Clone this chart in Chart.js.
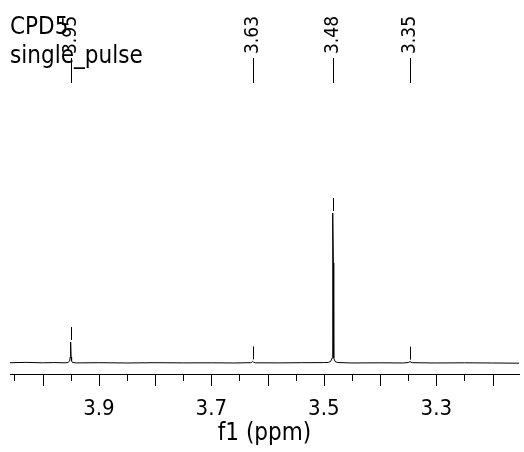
<!DOCTYPE html>
<html lang="en">
<head>
<meta charset="utf-8">
<title>CPD5 single_pulse</title>
<script src="https://cdn.jsdelivr.net/npm/chart.js"></script>
<style>
  body { margin: 0; background: #fff; }
  canvas { display: block; }
</style>
</head>
<body>
<canvas id="nmr" width="524" height="452"></canvas>
<script>
// spectrum (ppm, intensity)
const ppm = [4.058, 4.03, 4.00, 3.98, 3.96, 3.955, 3.952, 3.951, 3.9502, 3.9494, 3.9485, 3.947, 3.94,
  3.90, 3.85, 3.80, 3.75, 3.70, 3.66, 3.63, 3.628, 3.6265, 3.625, 3.622, 3.58, 3.54, 3.50,
  3.492, 3.488, 3.4852, 3.4846, 3.4838, 3.483, 3.4824, 3.480, 3.476, 3.45, 3.40, 3.36,
  3.35, 3.3485, 3.3467, 3.345, 3.343, 3.30, 3.25, 3.20, 3.153];
const intensity = [0.3, 0.6, 0.2, 0.4, 0.2, 0.5, 2, 6, 21, 6, 2, 0.5, 0.1,
  0.3, 0, 0.3, 0.1, 0.2, 0, 0.3, 0.8, 1.6, 0.8, 0.2, 0.1, 0.3, 0.4,
  0.6, 1.5, 5, 100, 150, 100, 5, 1.5, 0.5, 0, 0.2, 0,
  0.4, 0.9, 1.4, 0.9, 0.3, 0, 0.2, 0, -0.2];

// peak picking
const peakPpm = [3.9502, 3.6265, 3.4838, 3.3467];
const peakLabels = ['3.95', '3.63', '3.48', '3.35'];

const titleLines = ['CPD5', 'single_pulse'];
const axisTitle = 'f1 (ppm)';

const FONT = "'DejaVu Sans Condensed', 'DejaVu Sans', sans-serif";

// draws tick marks (long every 0.1, short every 0.05) and the peak labels
const peakMarks = {
  id: 'peakMarks',
  afterDraw(chart) {
    const {ctx, scales: {x, y}} = chart;
    ctx.save();
    ctx.strokeStyle = '#000';
    ctx.fillStyle = '#000';
    ctx.lineWidth = 1;

    for (let k = Math.ceil(x.min * 20 - 1e-6); k <= Math.floor(x.max * 20 + 1e-6); k++) {
      const px = Math.round(x.getPixelForValue(k / 20)) + 0.5;
      ctx.beginPath();
      ctx.moveTo(px, x.top);
      ctx.lineTo(px, x.top + (k % 2 === 0 ? 12 : 7));
      ctx.stroke();
    }

    ctx.font = '19px ' + FONT;
    peakPpm.forEach((p, i) => {
      const px = Math.round(x.getPixelForValue(p)) + 0.5;
      // height of the peak from the data
      let h = 0;
      ppm.forEach((q, j) => { if (Math.abs(q - p) < 0.004) h = Math.max(h, intensity[j]); });
      const py = y.getPixelForValue(h);
      ctx.beginPath();
      ctx.moveTo(px, py - 2);
      ctx.lineTo(px, py - 15);
      ctx.stroke();

      ctx.beginPath();
      ctx.moveTo(px, 58);
      ctx.lineTo(px, 83);
      ctx.stroke();

      ctx.save();
      ctx.translate(px, 54);
      ctx.rotate(-Math.PI / 2);
      ctx.textAlign = 'left';
      ctx.textBaseline = 'middle';
      ctx.fillText(peakLabels[i], 0, 0);
      ctx.restore();
    });
    ctx.restore();
  }
};

new Chart(document.getElementById('nmr'), {
  type: 'line',
  data: {
    datasets: [{
      data: ppm.map((p, i) => ({x: p, y: intensity[i]})),
      borderColor: '#000',
      borderWidth: 1,
      pointRadius: 0,
      tension: 0,
      fill: false
    }]
  },
  options: {
    responsive: false,
    animation: false,
    layout: { padding: { left: 10, right: 5, top: 0, bottom: 0 } },
    plugins: {
      legend: { display: false },
      tooltip: { enabled: false },
      title: {
        display: true,
        text: titleLines,
        align: 'start',
        color: '#000',
        font: { size: 24, family: FONT, weight: 'normal', lineHeight: 1.208 },
        padding: { top: 13, bottom: 29 }
      }
    },
    scales: {
      x: {
        type: 'linear',
        reverse: true,
        min: 3.153,
        max: 4.058,
        grid: { display: false, drawTicks: false },
        border: { display: true, color: '#000', width: 1 },
        ticks: {
          stepSize: 0.05,
          autoSkip: false,
          maxRotation: 0,
          padding: 22,
          color: '#000',
          font: { size: 22, family: FONT },
          callback: v => {
            const t = Math.round(v * 10);
            if (Math.abs(v * 10 - t) > 1e-6 || t % 2 === 0) return '';
            return (t / 10).toFixed(1);
          }
        },
        title: {
          display: true,
          text: axisTitle,
          color: '#000',
          font: { size: 24, family: FONT },
          padding: { top: 0, bottom: 4 }
        },
        afterFit: scale => {
          scale.height = 78;
          scale.paddingLeft = 0;
          scale.paddingRight = 0;
        }
      },
      y: {
        display: false,
        min: -11,
        max: 263
      }
    }
  },
  plugins: [peakMarks]
});
</script>
</body>
</html>
